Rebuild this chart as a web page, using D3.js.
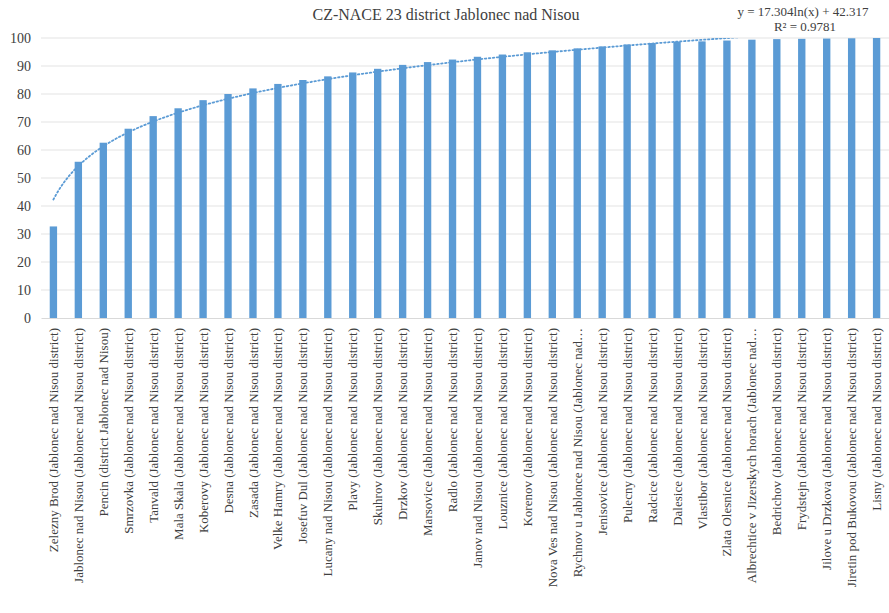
<!DOCTYPE html>
<html>
<head>
<meta charset="utf-8">
<script src="https://cdn.jsdelivr.net/npm/d3@7"></script>
<style>
  html, body { margin: 0; padding: 0; background: #ffffff; }
  svg { display: block; }
  text { font-family: "Liberation Serif", "Times New Roman", serif; fill: #404040; }
</style>
</head>
<body>
<svg id="chart" width="889" height="613"></svg>
<script>
// Municipalities of Jablonec nad Nisou district, sorted by share
const categories = [
  "Zelezny Brod (Jablonec nad Nisou district)",
  "Jablonec nad Nisou (Jablonec nad Nisou district)",
  "Pencin (district Jablonec nad Nisou)",
  "Smrzovka (Jablonec nad Nisou district)",
  "Tanvald (Jablonec nad Nisou district)",
  "Mala Skala (Jablonec nad Nisou district)",
  "Koberovy (Jablonec nad Nisou district)",
  "Desna (Jablonec nad Nisou district)",
  "Zasada (Jablonec nad Nisou district)",
  "Velke Hamry (Jablonec nad Nisou district)",
  "Josefuv Dul (Jablonec nad Nisou district)",
  "Lucany nad Nisou (Jablonec nad Nisou district)",
  "Plavy (Jablonec nad Nisou district)",
  "Skuhrov (Jablonec nad Nisou district)",
  "Drzkov (Jablonec nad Nisou district)",
  "Marsovice (Jablonec nad Nisou district)",
  "Radlo (Jablonec nad Nisou district)",
  "Janov nad Nisou (Jablonec nad Nisou district)",
  "Louznice (Jablonec nad Nisou district)",
  "Korenov (Jablonec nad Nisou district)",
  "Nova Ves nad Nisou (Jablonec nad Nisou district)",
  "Rychnov u Jablonce nad Nisou (Jablonec nad…",
  "Jenisovice (Jablonec nad Nisou district)",
  "Pulecny (Jablonec nad Nisou district)",
  "Radcice (Jablonec nad Nisou district)",
  "Dalesice (Jablonec nad Nisou district)",
  "Vlastibor (Jablonec nad Nisou district)",
  "Zlata Olesnice (Jablonec nad Nisou district)",
  "Albrechtice v Jizerskych horach (Jablonec nad…",
  "Bedrichov (Jablonec nad Nisou district)",
  "Frydstejn (Jablonec nad Nisou district)",
  "Jilove u Drzkova (Jablonec nad Nisou district)",
  "Jiretin pod Bukovou (Jablonec nad Nisou district)",
  "Lisny (Jablonec nad Nisou district)"
];

const values = [
  32.7, 55.8, 62.6, 67.6, 72.1, 74.9, 77.8, 80.0, 82.0, 83.6,
  85.0, 86.3, 87.7, 89.0, 90.4, 91.4, 92.3, 93.3, 94.1, 94.9,
  95.6, 96.3, 97.0, 97.7, 98.2, 98.7, 98.8, 99.1, 99.4, 99.6,
  99.7, 99.8, 99.9, 100.0
];

const yTicks = [0, 10, 20, 30, 40, 50, 60, 70, 80, 90, 100];

// Logarithmic trendline coefficients: y = a ln(x) + b
const trendA = 17.304;
const trendB = 42.317;
const titleText = "CZ-NACE 23 district Jablonec nad Nisou";
const equationText = "y = 17.304ln(x) + 42.317";
const r2Text = "R² = 0.9781";

const svg = d3.select("#chart");
const margin = { top: 38, right: 0, bottom: 295, left: 41 };
const width = 889 - margin.left - margin.right;
const height = 613 - margin.top - margin.bottom;

const g = svg.append("g").attr("transform", `translate(${margin.left},${margin.top})`);

const x = d3.scaleBand().domain(categories).range([0, width]).paddingInner(0.705).paddingOuter(0.35);
const y = d3.scaleLinear().domain([0, 100]).range([height, 0]);

// Horizontal gridlines
g.append("g")
  .selectAll("line")
  .data(yTicks.filter(t => t > 0))
  .join("line")
  .attr("x1", 0).attr("x2", width)
  .attr("y1", d => y(d)).attr("y2", d => y(d))
  .attr("stroke", "#e3e3e3").attr("stroke-width", 1);

// Y axis labels
const yAxis = d3.axisLeft(y).tickValues(yTicks).tickSize(0).tickPadding(10);
const yG = g.append("g").call(yAxis);
yG.select(".domain").remove();
yG.selectAll("text")
  .style("font-family", "'Liberation Serif', serif")
  .style("font-size", "14px")
  .attr("fill", "#404040");

// Bars
g.append("g")
  .selectAll("rect")
  .data(values)
  .join("rect")
  .attr("x", (d, i) => x(categories[i]))
  .attr("width", x.bandwidth())
  .attr("y", d => y(d))
  .attr("height", d => height - y(d))
  .attr("fill", "#5b9bd5");

// Category axis
const xAxis = d3.axisBottom(x).tickSize(0).tickPadding(0);
const xG = g.append("g").attr("transform", `translate(0,${height})`).call(xAxis);
xG.select(".domain").attr("stroke", "#d9d9d9").attr("stroke-width", 1);
xG.selectAll("text")
  .style("font-family", "'Liberation Serif', serif")
  .style("font-size", "13px")
  .attr("fill", "#404040")
  .attr("text-anchor", "end")
  .attr("dy", "0.35em")
  .attr("transform", "translate(0,10) rotate(-90)")
  .attr("x", 0).attr("y", 0);

// Trendline, clipped to the plot area
svg.append("clipPath").attr("id", "plotClip")
  .append("rect").attr("x", 0).attr("y", 0).attr("width", width).attr("height", height);

const trendPts = d3.range(1, categories.length + 0.001, 0.1).map(t => ({ t, v: trendA * Math.log(t) + trendB }));
const xPos = t => x(categories[0]) + x.bandwidth() / 2 + (t - 1) * x.step();
const line = d3.line().x(d => xPos(d.t)).y(d => y(d.v)).curve(d3.curveLinear);

g.append("path")
  .datum(trendPts)
  .attr("clip-path", "url(#plotClip)")
  .attr("d", line)
  .attr("fill", "none")
  .attr("stroke", "#5b9bd5")
  .attr("stroke-width", 1.8)
  .attr("stroke-dasharray", "1.5,2.5")
  .attr("stroke-linecap", "round");

// Title
svg.append("text")
  .attr("x", 446).attr("y", 20)
  .attr("text-anchor", "middle")
  .style("font-size", "16px")
  .text(titleText);

// Trendline equation label
svg.append("text")
  .attr("x", 803).attr("y", 16)
  .attr("text-anchor", "middle")
  .style("font-size", "13px")
  .text(equationText);
svg.append("text")
  .attr("x", 805).attr("y", 31)
  .attr("text-anchor", "middle")
  .style("font-size", "13px")
  .text(r2Text);
</script>
</body>
</html>
